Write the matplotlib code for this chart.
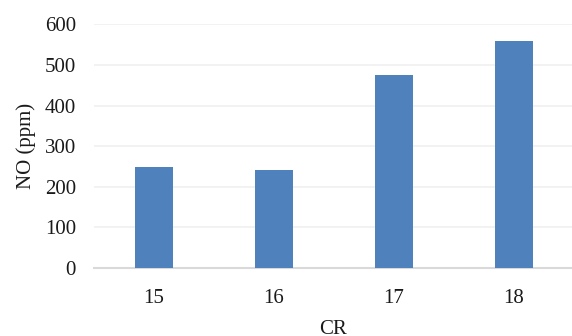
import matplotlib
matplotlib.use("Agg")
import matplotlib.pyplot as plt

# ── Data ──────────────────────────────────────────────────────────────────────
categories = ["15", "16", "17", "18"]
no_ppm = [249, 241, 475, 560]
y_ticks = [0, 100, 200, 300, 400, 500, 600]

plt.rcParams["font.family"] = ["Liberation Serif", "DejaVu Serif"]

fig = plt.figure(figsize=(5.72, 3.36), dpi=100)
ax = fig.add_axes([0.1643, 0.2024, 0.8357, 0.7253])

x = range(len(categories))
ax.bar(x, no_ppm, width=0.31, color="#4f81bd", zorder=3)

ax.set_xlim(-0.5, 3.483)
ax.set_ylim(0, 600)
ax.set_yticks(y_ticks)
ax.set_xticks(list(x))
ax.set_xticklabels(categories)

ax.grid(True, axis="y", color="#f0f0f0", linewidth=1.2, zorder=0)
for side in ("top", "right", "left"):
    ax.spines[side].set_visible(False)
ax.spines["bottom"].set_color("#d9d9d9")
ax.spines["bottom"].set_linewidth(1.5)
ax.tick_params(axis="both", length=0, labelsize=15, colors="#1a1a1a")
ax.tick_params(axis="x", pad=15)
ax.tick_params(axis="y", pad=13)

ax.set_xlabel("CR", fontsize=15, color="#1a1a1a", labelpad=9)
ax.set_ylabel("NO (ppm)", fontsize=15, color="#1a1a1a", labelpad=6)

fig.savefig("out.png", dpi=100, facecolor="white")
plt.close()
